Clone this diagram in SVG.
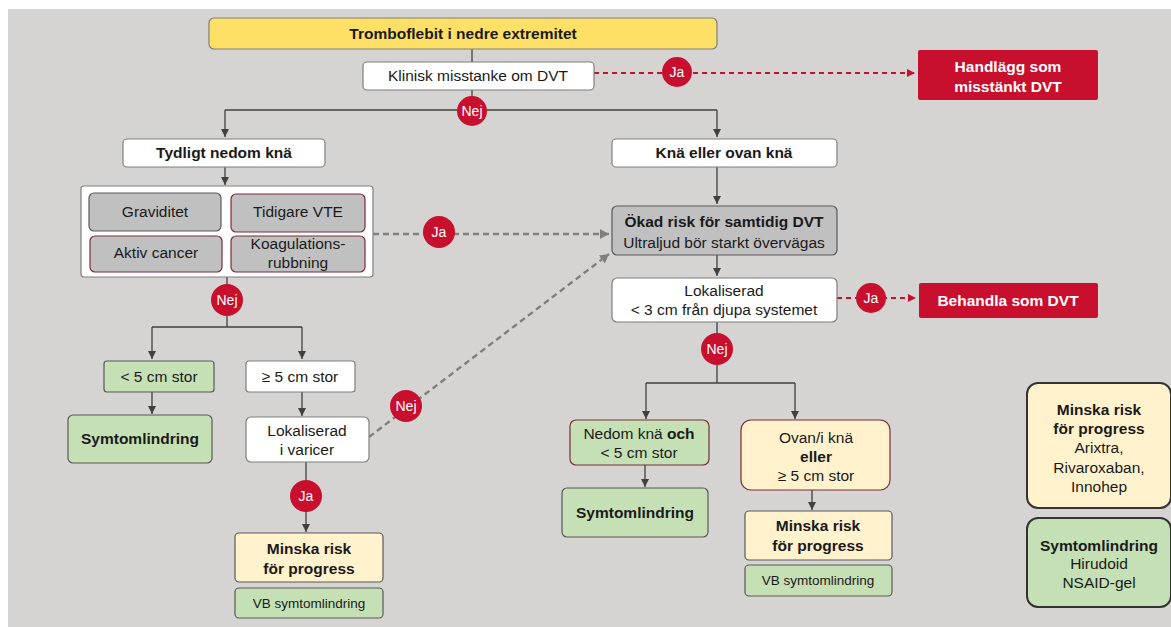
<svg xmlns="http://www.w3.org/2000/svg" width="1171" height="627" viewBox="0 0 1171 627">
<defs>
<style>
text{font-family:"Liberation Sans",Arial,sans-serif;font-size:15.5px;fill:#1a1a1a;text-anchor:middle}
.b{font-weight:bold}
.w{fill:#fff}
.s{font-size:13.5px}
.box{fill:#fff;stroke:#7f7f7f;stroke-width:1.2}
.grn{fill:#c5e0b4;stroke:#595959;stroke-width:1.2}
.yel{fill:#fff2cc;stroke:#595959;stroke-width:1.2}
.gry{fill:#c0c0c0;stroke:#595959;stroke-width:1.2}
.red{fill:#c8102e}
.dr{stroke:#7b2c36}
.ln{fill:none;stroke:#404040;stroke-width:1.3}
.rd{fill:none;stroke:#c8102e;stroke-width:1.8;stroke-dasharray:5 4}
.gd{fill:none;stroke:#7f7f7f;stroke-width:2.4;stroke-dasharray:6 4}
.dot{fill:#c8102e}
.dot text{fill:#fff;font-size:14px}
</style>
<marker id="ah" markerWidth="10" markerHeight="10" refX="8" refY="5" orient="auto" markerUnits="userSpaceOnUse"><path d="M0,1 L8,5 L0,9 Z" fill="#404040"/></marker>
<marker id="ahr" markerWidth="10" markerHeight="10" refX="8" refY="5" orient="auto" markerUnits="userSpaceOnUse"><path d="M0,1 L8,5 L0,9 Z" fill="#c8102e"/></marker>
<marker id="ahg" markerWidth="12" markerHeight="12" refX="9" refY="6" orient="auto" markerUnits="userSpaceOnUse"><path d="M0,1 L9,6 L0,11 Z" fill="#7f7f7f"/></marker>
</defs>
<rect x="8" y="9" width="1163" height="618" fill="#d5d4d2"/>

<g id="connectors">
<path class="ln" d="M472,49 V62"/>
<path class="ln" d="M472,90 V110 M225,110 H717"/>
<path class="ln" d="M225,110 V137" marker-end="url(#ah)"/>
<path class="ln" d="M717,110 V137" marker-end="url(#ah)"/>
<path class="rd" d="M594,73 H915" marker-end="url(#ahr)"/>
<path class="ln" d="M225,167 V185" marker-end="url(#ah)"/>
<path class="gd" d="M373,234 H609" marker-end="url(#ahg)"/>
<path class="ln" d="M227,277 V327 M152,327 H302"/>
<path class="ln" d="M152,327 V359" marker-end="url(#ah)"/>
<path class="ln" d="M302,327 V359" marker-end="url(#ah)"/>
<path class="ln" d="M152,392 V414" marker-end="url(#ah)"/>
<path class="ln" d="M302,392 V416" marker-end="url(#ah)"/>
<path class="ln" d="M306,462 V532" marker-end="url(#ah)"/>
<path class="gd" d="M369,437 L609,254" marker-end="url(#ahg)"/>
<path class="ln" d="M717,167 V204" marker-end="url(#ah)"/>
<path class="ln" d="M717,255 V276" marker-end="url(#ah)"/>
<path class="rd" d="M837,298 H916" marker-end="url(#ahr)"/>
<path class="ln" d="M717,322 V383 M646,383 H795"/>
<path class="ln" d="M646,383 V419" marker-end="url(#ah)"/>
<path class="ln" d="M795,383 V419" marker-end="url(#ah)"/>
<path class="ln" d="M645,465 V487" marker-end="url(#ah)"/>
<path class="ln" d="M812,490 V510" marker-end="url(#ah)"/>
</g>

<g id="labels">
<g class="dot"><circle cx="472" cy="111" r="15"/><text x="472" y="116">Nej</text></g>
<g class="dot"><circle cx="677" cy="72" r="15"/><text x="677" y="77">Ja</text></g>
<g class="dot"><circle cx="439" cy="232" r="16"/><text x="439" y="237">Ja</text></g>
<g class="dot"><circle cx="227" cy="300" r="16"/><text x="227" y="305">Nej</text></g>
<g class="dot"><circle cx="406" cy="406" r="16"/><text x="406" y="411">Nej</text></g>
<g class="dot"><circle cx="306" cy="496" r="16"/><text x="306" y="501">Ja</text></g>
<g class="dot"><circle cx="871" cy="298" r="15"/><text x="871" y="303">Ja</text></g>
<g class="dot"><circle cx="717" cy="349" r="16"/><text x="717" y="354">Nej</text></g>
</g>

<g id="n-title"><rect x="209" y="18" width="508" height="31" rx="5" fill="#ffe066" stroke="#7f7f7f" stroke-width="1.2"/><text class="b" x="463" y="39">Tromboflebit i nedre extremitet</text></g>
<g id="n-klinisk"><rect class="box" x="363" y="62" width="231" height="28" rx="4"/><text x="478" y="81">Klinisk misstanke om DVT</text></g>
<g id="n-handlagg"><rect class="red" x="918" y="50" width="180" height="50" rx="2"/><text class="b w" x="1008" y="72">Handlägg som</text><text class="b w" x="1008" y="92">misstänkt DVT</text></g>
<g id="n-tydligt"><rect class="box" x="123" y="139" width="202" height="28" rx="4"/><text class="b" x="224" y="158">Tydligt nedom knä</text></g>
<g id="n-risk">
<rect class="box" x="81" y="186" width="292" height="91" rx="3" stroke="#404040"/>
<rect class="gry" x="89" y="193" width="132" height="38" rx="5"/><text x="155" y="217">Graviditet</text>
<rect class="gry dr" x="231" y="194" width="134" height="38" rx="5"/><text x="298" y="217">Tidigare VTE</text>
<rect class="gry dr" x="90" y="236" width="132" height="36" rx="5"/><text x="156" y="258">Aktiv cancer</text>
<rect class="gry dr" x="231" y="236" width="134" height="36" rx="5"/><text x="298" y="249">Koagulations-</text><text x="298" y="268">rubbning</text>
</g>
<g id="n-lt5"><rect class="grn" x="104" y="361" width="110" height="31" rx="3"/><text x="159" y="382">&lt; 5 cm stor</text></g>
<g id="n-ge5"><rect class="box" x="246" y="361" width="109" height="31" rx="3"/><text x="300" y="382">≥ 5 cm stor</text></g>
<g id="n-sym1"><rect class="grn" x="68" y="415" width="144" height="48" rx="5"/><text class="b" x="140" y="444">Symtomlindring</text></g>
<g id="n-varicer"><rect class="box" x="246" y="417" width="123" height="45" rx="5"/><text x="307" y="436">Lokaliserad</text><text x="307" y="455">i varicer</text></g>
<g id="n-minska1"><rect class="yel" x="235" y="533" width="148" height="49" rx="4"/><text class="b" x="309" y="554">Minska risk</text><text class="b" x="309" y="574">för progress</text></g>
<g id="n-vb1"><rect class="grn" x="235" y="588" width="148" height="30" rx="4"/><text class="s" x="309" y="608">VB symtomlindring</text></g>
<g id="n-kna"><rect class="box" x="612" y="139" width="225" height="28" rx="4"/><text class="b" x="724" y="158">Knä eller ovan knä</text></g>
<g id="n-okad"><rect class="gry" x="612" y="206" width="225" height="49" rx="5"/><text class="b" x="724" y="227">Ökad risk för samtidig DVT</text><text x="724" y="248">Ultraljud bör starkt övervägas</text></g>
<g id="n-lok3"><rect class="box" x="612" y="278" width="225" height="44" rx="5"/><text x="724" y="296">Lokaliserad</text><text x="724" y="315">&lt; 3 cm från djupa systemet</text></g>
<g id="n-behandla"><rect class="red" x="919" y="283" width="179" height="35" rx="2"/><text class="b w" x="1008" y="306">Behandla som DVT</text></g>
<g id="n-nedom"><rect class="grn dr" x="570" y="420" width="139" height="45" rx="6"/><text x="639" y="439">Nedom knä <tspan class="b">och</tspan></text><text x="639" y="458">&lt; 5 cm stor</text></g>
<g id="n-sym2"><rect class="grn" x="562" y="488" width="146" height="49" rx="5"/><text class="b" x="635" y="518">Symtomlindring</text></g>
<g id="n-ovan"><rect class="yel dr" x="741" y="420" width="149" height="70" rx="10"/><text x="816" y="443">Ovan/i knä</text><text class="b" x="816" y="462">eller</text><text x="816" y="481">≥ 5 cm stor</text></g>
<g id="n-minska2"><rect class="yel" x="745" y="511" width="147" height="49" rx="4"/><text class="b" x="818" y="531">Minska risk</text><text class="b" x="818" y="551">för progress</text></g>
<g id="n-vb2"><rect class="grn" x="745" y="565" width="147" height="31" rx="4"/><text class="s" x="818" y="585">VB symtomlindring</text></g>
<g id="n-legend1"><rect x="1027" y="383" width="144" height="125" rx="11" fill="#fff2cc" stroke="#333" stroke-width="2"/><text class="b" x="1099" y="415">Minska risk</text><text class="b" x="1099" y="434">för progress</text><text x="1099" y="453">Arixtra,</text><text x="1099" y="473">Rivaroxaban,</text><text x="1099" y="492">Innohep</text></g>
<g id="n-legend2"><rect x="1027" y="518" width="144" height="89" rx="11" fill="#c5e0b4" stroke="#333" stroke-width="2"/><text class="b" x="1099" y="551">Symtomlindring</text><text x="1099" y="569">Hirudoid</text><text x="1099" y="588">NSAID-gel</text></g>
</svg>
